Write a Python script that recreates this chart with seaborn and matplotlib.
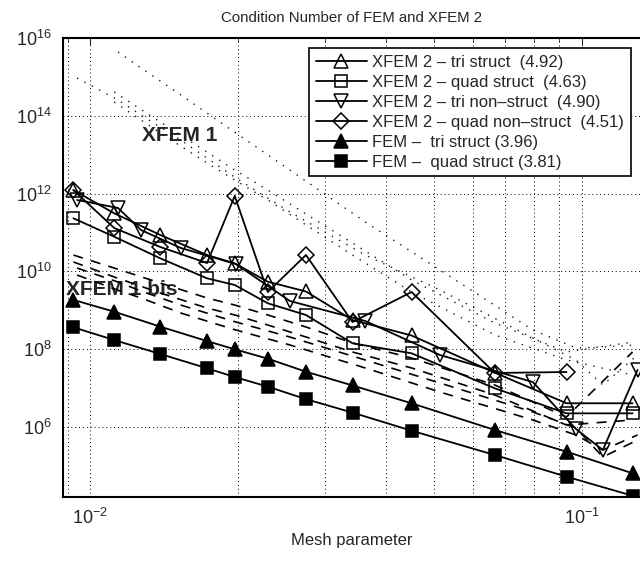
import numpy as np
import seaborn as sns
import matplotlib.pyplot as plt
from matplotlib.ticker import LogLocator, NullFormatter, FixedLocator

# ---------------------------------------------------------------------
# datos (parametro de malla, numero de condicion)
# ---------------------------------------------------------------------
h_struct = [0.00925, 0.0112, 0.0139, 0.0173, 0.0197, 0.0230, 0.0275, 0.0342,
            0.0451, 0.0666, 0.0932, 0.127]
h_nonstruct = [0.00941, 0.0114, 0.0127, 0.0153, 0.0198, 0.0255, 0.0363, 0.0515,
               0.0796, 0.0974, 0.1105, 0.130]

fem_quad = [3.64e8, 1.71e8, 7.48e7, 3.21e7, 1.91e7, 1.08e7, 5.15e6, 2.32e6,
            7.94e5, 1.88e5, 5.20e4, 1.68e4]
fem_tri = [1.85e9, 9.18e8, 3.78e8, 1.61e8, 9.89e7, 5.66e7, 2.62e7, 1.16e7,
           4.03e6, 8.28e5, 2.29e5, 6.35e4]
xfem2_tri = [1.24e12, 3.13e11, 8.65e10, 2.64e10, 1.61e10, 5.43e9, 3.04e9, 5.61e8,
             2.24e8, 2.47e7, 4.03e6, 4.03e6]
xfem2_quad = [2.33e11, 7.82e10, 2.17e10, 6.64e9, 4.47e9, 1.51e9, 7.55e8, 1.41e8,
              7.80e7, 9.79e6, 2.22e6, 2.22e6]
xfem2_tri_ns = [6.89e11, 4.29e11, 1.16e11, 4.01e10, 1.55e10, 1.73e9, 5.30e8, 7.05e7,
                1.42e7, 8.79e5, 2.53e5, 2.90e7]
h_quad_ns = h_struct[:11]
xfem2_quad_ns = [1.24e12, 1.31e11, 4.25e10, 1.64e10, 8.73e11, 2.95e9, 2.64e10,
                 4.98e8, 2.95e9, 2.43e7, 2.57e7]

# XFEM 1 (punteado) y XFEM 1 bis (discontinuo)
xfem1_a = [4.44e15, 1.72e15, 3.48e14, 3.65e13, 4.07e12, 1.87e11, 1.09e10, 3.10e8,
           1.07e8, 1.13e8, 1.28e8]
xfem1_b = [9.51e14, 2.58e14, 1.06e14, 2.41e13, 2.54e12, 3.38e11, 2.64e10, 3.32e9,
           1.93e8, 5.25e7, 1.19e7, 7.05e7]
xfem1_c = [4.15e14, 7.01e13, 1.18e13, 4.07e12, 1.24e12, 3.00e11, 5.37e10, 6.01e9,
           4.70e8, 8.43e7, 1.52e8]
xfem1_d = [2.29e14, 3.65e13, 6.17e12, 2.25e12, 6.89e11, 1.57e11, 2.64e10, 2.95e9,
           2.31e8, 5.25e7, 2.15e7]

bis_a = [2.64e10, 1.22e10, 5.02e9, 2.07e9, 1.36e9, 7.55e8, 3.71e8, 1.44e8,
         5.90e7, 1.19e7, 1.79e6, 8.43e7]
bis_b = [1.75e10, 7.18e9, 2.78e9, 1.14e9, 7.55e8, 4.17e8, 2.05e8, 8.43e7,
         3.27e7, 6.59e6, 1.11e6, 1.50e6]
bis_c = [1.22e10, 5.33e9, 3.13e9, 1.36e9, 4.98e8, 2.05e8, 5.25e7, 1.34e7,
         2.41e6, 9.33e5, 1.67e5, 4.58e5]
bis_d = [8.07e9, 3.27e9, 2.07e9, 8.49e8, 3.10e8, 1.28e8, 3.27e7, 7.87e6,
         1.50e6, 6.15e5, 2.53e5, 6.15e5]

labels = ["XFEM 2 \u2013 tri struct  (4.92)",
          "XFEM 2 \u2013 quad struct  (4.63)",
          "XFEM 2 \u2013 tri non\u2013struct  (4.90)",
          "XFEM 2 \u2013 quad non\u2013struct  (4.51)",
          "FEM \u2013  tri struct (3.96)",
          "FEM \u2013  quad struct (3.81)"]

sns.set_style("white")
plt.rcParams['font.family'] = ['Liberation Sans', 'DejaVu Sans']
plt.rcParams['mathtext.fontset'] = 'custom'
plt.rcParams['mathtext.rm'] = 'Liberation Sans'
plt.rcParams['mathtext.it'] = 'Liberation Sans:italic'

fig = plt.figure(figsize=(6.4, 5.69), dpi=100)
ax = fig.add_axes([0.0984, 0.1271, 0.9016, 0.8056])
ax.set(xscale="log", yscale="log")

# lineas de fondo XFEM 1 / XFEM 1 bis
dot_style = dict(color="0.1", lw=1.0, linestyle=(0, (1, 5)), legend=False, ax=ax)
sns.lineplot(x=h_nonstruct[1:], y=xfem1_a, **dot_style)
sns.lineplot(x=h_nonstruct, y=xfem1_b, **dot_style)
sns.lineplot(x=h_struct[1:], y=xfem1_c, **dot_style)
sns.lineplot(x=h_struct[1:], y=xfem1_d, **dot_style)

dash_style = dict(color="black", lw=1.2, linestyle=(0, (6, 5)), legend=False, ax=ax)
sns.lineplot(x=h_struct, y=bis_a, **dash_style)
sns.lineplot(x=h_struct, y=bis_b, **dash_style)
sns.lineplot(x=h_nonstruct, y=bis_c, **dash_style)
sns.lineplot(x=h_nonstruct, y=bis_d, **dash_style)

# series principales
common = dict(color="black", lw=1.3, markeredgecolor="black", markeredgewidth=1.1, ax=ax)
sns.lineplot(x=h_struct, y=xfem2_tri, marker="^", markersize=10,
             markerfacecolor="none", label=labels[0], **common)
sns.lineplot(x=h_struct, y=xfem2_quad, marker="s", markersize=8,
             markerfacecolor="none", label=labels[1], **common)
sns.lineplot(x=h_nonstruct, y=xfem2_tri_ns, marker="v", markersize=10,
             markerfacecolor="none", label=labels[2], **common)
sns.lineplot(x=h_quad_ns, y=xfem2_quad_ns, marker="D", markersize=8,
             markerfacecolor="none", label=labels[3], **common)
sns.lineplot(x=h_struct, y=fem_tri, marker="^", markersize=10,
             markerfacecolor="black", label=labels[4], **common)
sns.lineplot(x=h_struct, y=fem_quad, marker="s", markersize=8,
             markerfacecolor="black", label=labels[5], **common)

ax.set_xlim(0.00881, 0.1315)
ax.set_ylim(1.59e4, 1e16)

ax.yaxis.set_major_locator(FixedLocator([1e6, 1e8, 1e10, 1e12, 1e14, 1e16]))
ax.yaxis.set_minor_locator(LogLocator(base=10, subs=np.arange(1, 10), numticks=60))
ax.yaxis.set_minor_formatter(NullFormatter())
ax.xaxis.set_major_locator(FixedLocator([1e-2, 1e-1]))
ax.xaxis.set_minor_locator(LogLocator(base=10, subs=np.arange(2, 10), numticks=20))
ax.xaxis.set_minor_formatter(NullFormatter())

ax.grid(True, which="major", color="black", lw=0.7, linestyle=(0, (1, 3)))
ax.grid(True, which="minor", axis="x", color="black", lw=0.7, linestyle=(0, (1, 3)))
ax.tick_params(which="both", direction="in", top=True, right=False, labelsize=13, pad=8)
ax.tick_params(which="major", length=5)
ax.tick_params(which="minor", length=3)
for s in ["left", "bottom", "top"]:
    ax.spines[s].set_linewidth(1.5)
    ax.spines[s].set_color("black")
ax.spines["right"].set_visible(False)

ax.text(0.203, 0.787, "XFEM 1", transform=ax.transAxes, fontsize=15,
        fontweight="bold", color="0.15", ha="center", va="center", zorder=1)
ax.text(0.005, 0.452, "XFEM 1 bis", transform=ax.transAxes, fontsize=15,
        fontweight="bold", color="0.15", ha="left", va="center", zorder=1)

ax.set_title("Condition Number of FEM and XFEM 2", fontsize=10.8, pad=12)
ax.set_xlabel("Mesh parameter", fontsize=12)
ax.set_ylabel("")

handles, labs = ax.get_legend_handles_labels()
leg = ax.legend(handles, labs, loc="upper right", bbox_to_anchor=(0.984, 0.979),
                borderaxespad=0, fontsize=12, fancybox=False, framealpha=1,
                edgecolor="black", handlelength=3.1, handletextpad=0.3,
                labelspacing=0.3, borderpad=0.4)
leg.get_frame().set_linewidth(1.2)

fig.savefig("out.png", dpi=100)
plt.close()
